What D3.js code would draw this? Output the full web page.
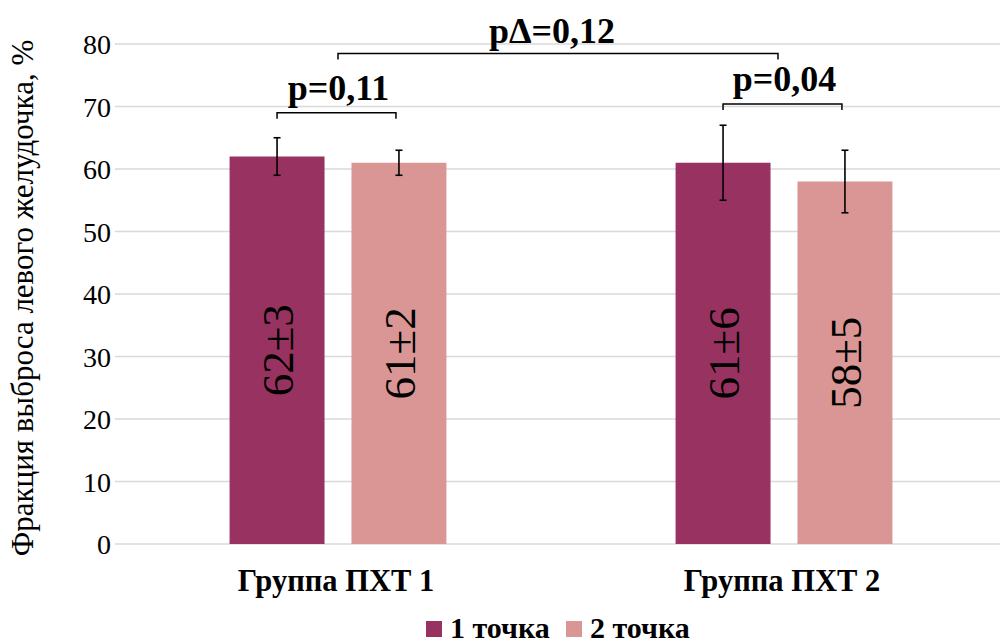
<!DOCTYPE html>
<html><head><meta charset="utf-8">
<script src="https://cdn.jsdelivr.net/npm/d3@7"></script>
<style>body{margin:0;background:#fff}svg{display:block}
svg text{font-family:"Liberation Serif","Times New Roman",Tinos,serif}</style>
</head><body>
<svg id="c" width="1000" height="644"></svg>
<script>
const groups = ["Группа ПХТ 1", "Группа ПХТ 2"];
const series = ["1 точка", "2 точка"];
const means = [[62, 61], [61, 58]];
const sds = [[3, 2], [6, 5]];
const valueLabels = [["62±3", "61±2"], ["61±6", "58±5"]];
const yTicks = [0, 10, 20, 30, 40, 50, 60, 70, 80];
const yTitle = "Фракция выброса левого желудочка, %";
const colors = ["#983361", "#da9694"];
// comparison brackets
const pairBrackets = [
  {group: 0, text: "p=0,11", level: 69},
  {group: 1, text: "p=0,04", level: 70.4}
];
const deltaBracket = {text: "pΔ=0,12", level: 78.5};

const svg = d3.select("#c");
const y = d3.scaleLinear().domain([0, 80]).range([544, 44]);
const x0 = d3.scaleBand().domain(groups).range([115, 1007]).paddingInner(0).paddingOuter(0);
const x1 = d3.scaleBand().domain(series).range([0, x0.bandwidth()]).paddingInner(0.221).paddingOuter(0.94);

// gridlines
svg.append("g").selectAll("line").data(yTicks).join("line")
  .attr("x1", 115).attr("x2", 1000)
  .attr("y1", d => y(d)).attr("y2", d => y(d))
  .attr("stroke", "#d9d9d9").attr("stroke-width", 1.3);

// y axis
const yAxis = d3.axisLeft(y).tickValues(yTicks).tickSize(0).tickPadding(0);
const ya = svg.append("g").attr("transform", "translate(111,0)").call(yAxis);
ya.select(".domain").remove();
ya.attr("font-family", null).attr("font-size", null);
ya.selectAll("text").style("font-size", "28px").attr("fill", "#000").attr("dy", "0.34em");

svg.append("text").attr("transform", "translate(33,298) rotate(-90)")
  .attr("text-anchor", "middle").style("font-size", "31px")
  .attr("fill", "#000").text(yTitle);

// bars
const data = [];
groups.forEach((g, gi) => series.forEach((s, si) => data.push({g, s, gi, si, v: means[gi][si], e: sds[gi][si], lab: valueLabels[gi][si]})));
const cx = d => x0(d.g) + x1(d.s) + x1.bandwidth() / 2;

svg.append("g").selectAll("rect").data(data).join("rect")
  .attr("x", d => x0(d.g) + x1(d.s)).attr("width", x1.bandwidth())
  .attr("y", d => y(d.v)).attr("height", d => y(0) - y(d.v))
  .attr("fill", d => colors[d.si]);

// error bars
const eb = svg.append("g").attr("stroke", "#000").attr("stroke-width", 1.6);
data.forEach(d => {
  eb.append("line").attr("x1", cx(d)).attr("x2", cx(d)).attr("y1", y(d.v + d.e)).attr("y2", y(d.v - d.e));
  [d.v + d.e, d.v - d.e].forEach(t => eb.append("line").attr("x1", cx(d) - 3.5).attr("x2", cx(d) + 3.5).attr("y1", y(t)).attr("y2", y(t)));
});

// value labels
svg.append("g").selectAll("text").data(data).join("text")
  .attr("transform", d => `translate(${cx(d)},${y(d.v / 2)}) rotate(-90)`)
  .attr("text-anchor", "middle").attr("dy", "0.35em")
  .style("font-size", "45px").attr("fill", "#000")
  .text(d => d.lab);

// x labels
svg.append("g").selectAll("text").data(groups).join("text")
  .attr("x", g => x0(g) + x0.bandwidth() / 2 - 2).attr("y", 591)
  .attr("text-anchor", "middle").style("font-size", "30.5px")
  .attr("font-weight", "bold").attr("fill", "#000").text(g => g);

// brackets
function bracket(xa, xb, lv, text, tdx, gap) {
  const yy = y(lv);
  svg.append("path").attr("d", `M${xa},${yy + 6}V${yy}H${xb}V${yy + 6}`)
    .attr("fill", "none").attr("stroke", "#000").attr("stroke-width", 1.5);
  svg.append("text").attr("x", (xa + xb) / 2 + tdx).attr("y", yy - gap)
    .attr("text-anchor", "middle").style("font-size", "36px")
    .attr("font-weight", "bold").attr("fill", "#000").text(text);
}
pairBrackets.forEach(b => {
  const g = groups[b.group];
  bracket(x0(g) + x1(series[0]) + x1.bandwidth() / 2, x0(g) + x1(series[1]) + x1.bandwidth() / 2 - 3, b.level, b.text, 2, 13);
});
bracket(x0(groups[0]) + x0.bandwidth() / 2, x0(groups[1]) + x0.bandwidth() / 2 - 6, deltaBracket.level, deltaBracket.text, -6, 10);

// legend
const lg = svg.append("g");
const legX = [426, 566];
series.forEach((s, i) => {
  lg.append("rect").attr("x", legX[i]).attr("y", 621).attr("width", 16).attr("height", 16).attr("fill", colors[i]);
  lg.append("text").attr("x", legX[i] + 24).attr("y", 638)
    .style("font-size", "30px").attr("font-weight", "bold").attr("fill", "#000").text(s);
});
</script>
</body></html>
